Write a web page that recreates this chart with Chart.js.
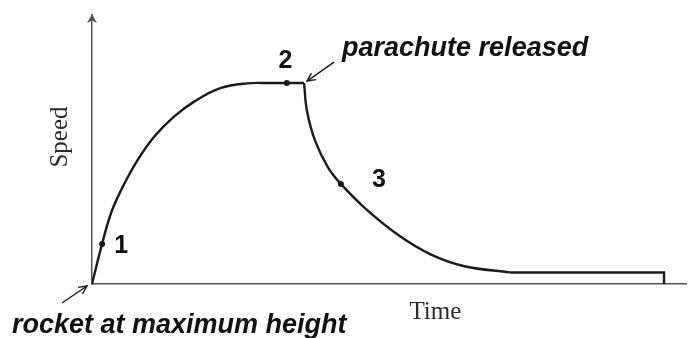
<!DOCTYPE html>
<html>
<head>
<meta charset="utf-8">
<script src="https://cdn.jsdelivr.net/npm/chart.js@4.4.0/dist/chart.umd.min.js"></script>
<style>
  html, body { margin: 0; padding: 0; background: #fff; }
  #wrap { width: 690px; height: 338px; position: relative; }
</style>
</head>
<body>
<div id="wrap"><canvas id="chart"></canvas></div>
<script>
  // Speed-time sketch of the rocket's descent (arbitrary units).
  const riseTime = [0, 1.7, 3.2, 4.9, 7.7, 10.5, 13.8, 17.2, 21.6, 26.1, 30, 35.7];
  const riseSpeed = [0, 14.9, 26.3, 34.9, 46.1, 54.8, 62.2, 67.8, 72.8, 74.6, 74.7, 74.7];

  const fallTime = [35.7, 36.2, 37.6, 39.8, 41.9, 45.9, 51.5, 57.1, 62.7, 70.4];
  const fallSpeed = [74.7, 64.2, 53.0, 43.1, 37.2, 28.3, 18.3, 10.9, 6.6, 4.3];

  const tailTime = [70.4, 96.3, 96.3];
  const tailSpeed = [4.3, 4.3, 0];

  const markTime = [1.7, 32.8, 41.9];
  const markSpeed = [14.9, 74.7, 37.2];
  const markLabels = ['1', '2', '3'];

  const xTitle = 'Time';
  const yTitle = 'Speed';
  const releaseNote = 'parachute released';
  const startNote = 'rocket at maximum height';

  const INK = '#1a1a1a';
  const AXIS = '#555';
  const NOTE_FONT = 'italic bold 27px "Liberation Sans", Arial, sans-serif';
  const NUM_FONT = 'bold 25px "Liberation Sans", Arial, sans-serif';
  const TITLE_FONT = '25px "Liberation Serif", "Times New Roman", serif';

  const toXY = (xs, ys) => xs.map((x, i) => ({ x, y: ys[i] }));

  function arrow(ctx, x0, y0, x1, y1) {
    const a = Math.atan2(y1 - y0, x1 - x0);
    ctx.beginPath();
    ctx.moveTo(x0, y0);
    ctx.lineTo(x1, y1);
    ctx.stroke();
    ctx.beginPath();
    ctx.moveTo(x1 - 9 * Math.cos(a - 0.45), y1 - 9 * Math.sin(a - 0.45));
    ctx.lineTo(x1, y1);
    ctx.lineTo(x1 - 9 * Math.cos(a + 0.45), y1 - 9 * Math.sin(a + 0.45));
    ctx.stroke();
  }

  // Axis arrowhead, titles and the hand-drawn style notes.
  const notes = {
    id: 'notes',
    afterDatasetsDraw(chart) {
      const { ctx, chartArea: ca, scales: { x, y } } = chart;
      ctx.save();

      // arrowhead on speed axis
      ctx.fillStyle = AXIS;
      ctx.beginPath();
      ctx.moveTo(ca.left, ca.top - 1);
      ctx.lineTo(ca.left - 5, ca.top + 8);
      ctx.lineTo(ca.left, ca.top + 5.5);
      ctx.lineTo(ca.left + 5, ca.top + 8);
      ctx.closePath();
      ctx.fill();

      // axis titles
      ctx.fillStyle = '#2a2a2a';
      ctx.font = TITLE_FONT;
      ctx.textAlign = 'center';
      ctx.textBaseline = 'middle';
      ctx.fillText(xTitle, x.getPixelForValue(57.8), ca.bottom + 28);
      ctx.save();
      ctx.translate(ca.left - 32, ca.top + 122);
      ctx.rotate(-Math.PI / 2);
      ctx.fillText(yTitle, 0, 0);
      ctx.restore();

      // point numbers
      ctx.fillStyle = '#111';
      ctx.font = NUM_FONT;
      const offs = [[19, 2.5], [-1.5, -21.5], [38, -3.5]];
      markLabels.forEach((lab, i) => {
        const px = x.getPixelForValue(markTime[i]);
        const py = y.getPixelForValue(markSpeed[i]);
        ctx.fillText(lab, px + offs[i][0], py + offs[i][1]);
      });

      // notes with arrows
      ctx.font = NOTE_FONT;
      ctx.textAlign = 'left';
      ctx.textBaseline = 'alphabetic';
      const cx = x.getPixelForValue(fallTime[0]);
      const cy = y.getPixelForValue(fallSpeed[0]);
      ctx.fillText(releaseNote, cx + 38, cy - 27);
      const ox = x.getPixelForValue(riseTime[0]);
      const oy = y.getPixelForValue(riseSpeed[0]);
      ctx.fillText(startNote, ox - 80, oy + 49);

      ctx.strokeStyle = INK;
      ctx.lineWidth = 1.4;
      arrow(ctx, cx + 30, cy - 21, cx + 3, cy - 2);
      arrow(ctx, ox - 30, oy + 19, ox - 5, oy + 2);

      ctx.restore();
    }
  };

  const curve = (data, tension) => ({
    data,
    showLine: true,
    borderColor: INK,
    borderWidth: 2.4,
    pointRadius: 0,
    fill: false,
    tension
  });

  new Chart(document.getElementById('chart'), {
    type: 'scatter',
    data: {
      datasets: [
        curve(toXY(riseTime, riseSpeed), 0.4),
        curve(toXY(fallTime, fallSpeed), 0.4),
        curve(toXY(tailTime, tailSpeed), 0),
        {
          data: toXY(markTime, markSpeed),
          showLine: false,
          pointRadius: 3,
          pointBackgroundColor: INK,
          pointBorderWidth: 0
        }
      ]
    },
    options: {
      responsive: true,
      maintainAspectRatio: false,
      animation: false,
      layout: { padding: { left: 92, top: 15, right: 0, bottom: 54 } },
      plugins: { legend: { display: false }, tooltip: { enabled: false } },
      scales: {
        x: {
          type: 'linear', min: 0, max: 100,
          ticks: { display: false },
          grid: { display: false, drawTicks: false },
          border: { display: true, color: AXIS, width: 1.5 }
        },
        y: {
          type: 'linear', min: 0, max: 100,
          ticks: { display: false },
          grid: { display: false, drawTicks: false },
          border: { display: true, color: AXIS, width: 1.5 }
        }
      }
    },
    plugins: [notes]
  });
</script>
</body>
</html>
